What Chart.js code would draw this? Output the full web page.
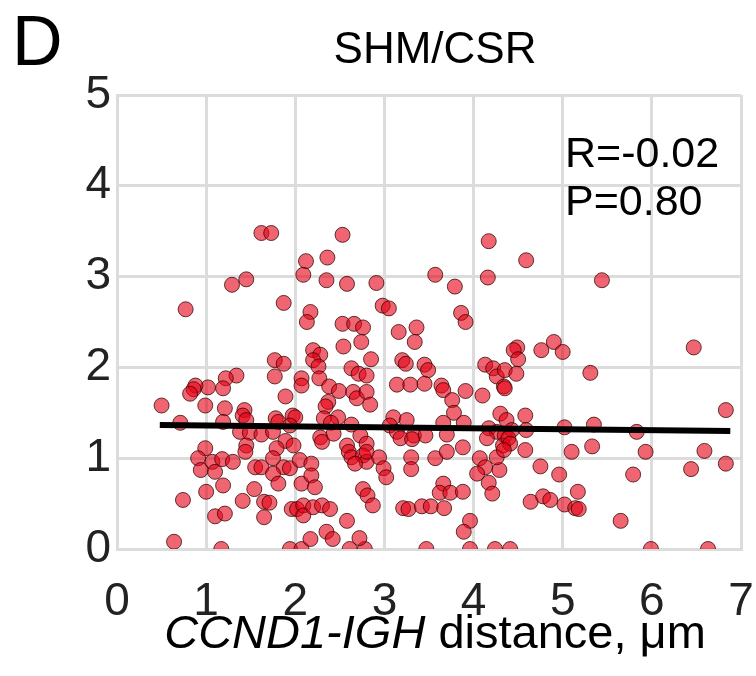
<!DOCTYPE html>
<html>
<head>
<meta charset="utf-8">
<script src="https://cdn.jsdelivr.net/npm/chart.js@4"></script>
<style>
  html, body { margin: 0; padding: 0; background: #fff; }
  #wrap { width: 756px; height: 676px; position: relative; }
</style>
</head>
<body>
<div id="wrap"><canvas id="shmChart"></canvas></div>
<script>
'use strict';

// --- data ---
const PANEL = 'D';
const TITLE = 'SHM/CSR';
const STATS = ['R=-0.02', 'P=0.80'];
const X_TITLE_ITALIC = 'CCND1-IGH';
const X_TITLE_REST = ' distance, \u03BCm';
const X_TICKS = [0, 1, 2, 3, 4, 5, 6, 7];
const Y_TICKS = [0, 1, 2, 3, 4, 5];

// CCND1-IGH distance (µm)
const distance = [
  1.62, 1.73, 2.12, 2.09, 1.45, 1.29, 1.87, 0.77, 2.17, 2.13,
  2.53, 4.17, 2.36, 2.35, 2.58, 2.91, 3.57, 3.79, 4.16, 2.98,
  3.05, 2.53, 2.66, 2.76, 3.16, 3.36, 3.86, 3.91, 4.59, 5.44,
  1.77, 1.87, 1.34, 1.22, 1.19, 1.02, 0.88, 0.86, 0.82, 1.77,
  2.07, 2.07, 1.89, 0.50, 0.99, 1.21, 1.43, 1.41, 1.45, 1.19,
  0.71, 1.78, 1.81, 1.97, 2.00, 1.94, 1.38, 1.49, 1.62, 1.75,
  1.89, 1.98, 1.79, 1.45, 0.99,
  2.74, 2.54, 3.34, 2.20, 2.28, 2.20, 2.26, 2.85, 2.63, 2.71,
  2.80, 3.20, 3.24, 3.45, 3.49, 4.13, 4.22, 4.26, 4.34, 2.27,
  2.38, 2.49, 2.65, 2.69, 2.80, 2.84, 3.14, 3.29, 3.45, 3.64,
  3.66, 3.76, 3.91, 4.10, 3.78, 2.37, 2.34, 2.48, 2.32, 2.40,
  2.63, 3.10, 3.25, 3.06, 3.14, 3.33, 3.46, 3.18, 3.31, 3.66,
  3.89, 3.70, 4.30, 4.17, 4.26, 4.15, 4.35, 4.33, 2.28, 2.30,
  2.43, 2.58, 2.73, 2.80,
  4.49, 4.45, 4.50, 4.76, 4.90, 5.00, 6.47, 4.35, 4.48, 4.35,
  5.31, 4.58, 4.37, 4.43, 4.59, 5.02, 5.35, 5.83, 4.39,
  4.41, 4.58, 5.10, 5.33, 5.93, 6.59, 6.83, 6.83,
  0.91, 1.07, 1.18, 1.30, 0.94, 1.10, 1.44, 1.55, 1.62, 1.75,
  1.87, 1.94, 2.05, 1.75, 1.81, 2.07, 1.19, 1.00, 1.54, 0.74,
  1.41, 1.65, 1.71, 1.96, 2.02, 2.09, 2.09, 1.10, 1.21, 1.65,
  0.64, 1.17, 1.94, 2.07, 2.17,
  2.18, 2.18, 2.22, 2.20, 2.30, 2.39, 2.58, 2.35, 2.42, 2.61,
  2.78, 2.72, 2.76, 2.81, 2.87, 2.60, 2.63, 2.76, 2.80, 2.67,
  2.80, 2.94, 2.99, 3.02, 3.30, 3.30, 3.57, 3.70, 3.88, 3.66,
  3.62, 3.74, 3.88, 3.21, 3.27, 3.42, 3.52, 3.67, 3.96, 3.89,
  3.47, 3.96, 4.24, 4.41, 4.07, 4.13, 4.04, 4.29, 4.17, 4.21,
  4.26, 4.34,
  4.75, 4.96, 5.79, 6.44, 5.17, 4.64, 4.78, 4.86, 5.02, 5.14,
  5.18, 5.65, 5.99, 6.63
];

// SHM/CSR ratio
const shmCsr = [
  3.48, 3.48, 3.17, 3.02, 2.97, 2.91, 2.71, 2.64, 2.61, 2.50,
  3.46, 3.39, 3.21, 2.96, 2.92, 2.93, 3.02, 2.89, 2.99, 2.68,
  2.65, 2.48, 2.48, 2.44, 2.39, 2.44, 2.60, 2.50, 3.18, 2.96,
  2.08, 2.04, 1.91, 1.88, 1.77, 1.78, 1.80, 1.76, 1.71, 1.90,
  1.88, 1.80, 1.68, 1.58, 1.58, 1.55, 1.53, 1.47, 1.42, 1.40,
  1.39, 1.44, 1.40, 1.47, 1.45, 1.36, 1.29, 1.28, 1.26, 1.29,
  1.19, 1.14, 1.11, 1.14, 1.11,
  2.28, 2.23, 2.28, 2.19, 2.14, 2.08, 2.01, 2.09, 1.99, 1.93,
  1.91, 2.08, 2.04, 2.03, 1.97, 2.03, 1.99, 1.90, 1.79, 1.88,
  1.79, 1.74, 1.73, 1.66, 1.73, 1.59, 1.81, 1.81, 1.82, 1.80,
  1.75, 1.64, 1.74, 1.69, 1.50, 1.62, 1.57, 1.45, 1.44, 1.39,
  1.37, 1.45, 1.42, 1.36, 1.29, 1.25, 1.25, 1.22, 1.21, 1.39,
  1.39, 1.26, 1.49, 1.33, 1.29, 1.22, 1.25, 1.14, 1.23, 1.18,
  1.27, 1.14, 1.25, 1.16,
  2.22, 2.19, 2.09, 2.19, 2.28, 2.17, 2.22, 1.97, 1.93, 1.77,
  1.94, 1.47, 1.42, 1.31, 1.31, 1.34, 1.37, 1.29, 1.22,
  1.16, 1.09, 1.07, 1.13, 1.07, 1.08, 1.53, 0.94,
  1.00, 0.96, 0.99, 0.96, 0.87, 0.85, 1.07, 0.90, 0.90, 1.00,
  0.90, 0.89, 0.98, 0.83, 0.72, 0.72, 0.70, 0.63, 0.66, 0.54,
  0.53, 0.52, 0.51, 0.44, 0.44, 0.48, 0.37, 0.36, 0.39, 0.35,
  0.08, 0.00, 0.00, 0.00, 0.11,
  0.94, 0.81, 0.68, 0.46, 0.48, 0.44, 0.31, 0.19, 0.11, 0.00,
  0.00, 0.12, 0.66, 0.59, 0.48, 1.07, 1.01, 1.03, 0.96, 0.94,
  1.07, 1.01, 0.89, 0.79, 1.01, 0.88, 1.00, 1.07, 1.12, 0.72,
  0.62, 0.62, 0.63, 0.45, 0.44, 0.47, 0.47, 0.45, 0.31, 0.19,
  0.00, 0.00, 0.00, 0.00, 1.00, 0.90, 0.83, 0.87, 0.73, 0.61,
  1.01, 1.09,
  0.91, 0.82, 0.82, 0.88, 0.63, 0.52, 0.58, 0.54, 0.49, 0.45,
  0.44, 0.31, 0.00, 0.00
];

// regression line end points
const fitX = [0.48, 6.88];
const fitY = [1.365, 1.30];

const FONT = '"Liberation Sans", Arial, Helvetica, sans-serif';

const points = distance.map((x, i) => ({ x: x, y: shmCsr[i] }));
const fitLine = fitX.map((x, i) => ({ x: x, y: fitY[i] }));

// draws panel letter, title, stats and the mixed-style x title
const textPlugin = {
  id: 'panelTexts',
  afterDraw(chart) {
    const ctx = chart.ctx;
    const a = chart.chartArea;
    ctx.save();
    ctx.fillStyle = '#000';
    ctx.textBaseline = 'alphabetic';

    ctx.textAlign = 'left';
    ctx.font = '70px ' + FONT;
    ctx.fillText(PANEL, 12, 65);

    ctx.textAlign = 'center';
    ctx.font = '44px ' + FONT;
    ctx.fillText(TITLE, 435, 63);

    ctx.textAlign = 'left';
    ctx.font = '43px ' + FONT;
    ctx.fillText(STATS[0], 565, 167);
    ctx.fillText(STATS[1], 565, 215);

    const it = 'italic 47px ' + FONT;
    const rg = '47px ' + FONT;
    ctx.font = it;
    const w1 = ctx.measureText(X_TITLE_ITALIC).width;
    ctx.font = rg;
    const w2 = ctx.measureText(X_TITLE_REST).width;
    const x0 = (a.left + a.right) / 2 + 6 - (w1 + w2) / 2;
    ctx.font = it;
    ctx.fillText(X_TITLE_ITALIC, x0, 648);
    ctx.font = rg;
    ctx.fillText(X_TITLE_REST, x0 + w1, 648);
    ctx.restore();
  }
};

const ctx = document.getElementById('shmChart').getContext('2d');
new Chart(ctx, {
  type: 'scatter',
  data: {
    datasets: [
      {
        type: 'line',
        label: 'fit',
        data: fitLine,
        borderColor: '#000',
        borderWidth: 6,
        pointRadius: 0,
        fill: false,
        order: 0,
      },
      {
        label: 'cells',
        data: points,
        backgroundColor: 'rgba(228,0,20,0.6)',
        borderColor: 'rgba(50,0,0,0.75)',
        borderWidth: 1,
        pointRadius: 7.5,
        order: 1,
      },
    ],
  },
  options: {
    responsive: true,
    maintainAspectRatio: false,
    animation: false,
    layout: { padding: { top: 95, right: 15, left: 0, bottom: 0 } },
    plugins: {
      legend: { display: false },
      tooltip: { enabled: false },
    },
    scales: {
      x: {
        type: 'linear',
        min: 0,
        max: 7,
        afterBuildTicks: s => { s.ticks = X_TICKS.map(v => ({ value: v })); },
        afterFit: s => { s.height = 127; s.paddingLeft = 0; s.paddingRight = 0; },
        grid: { color: '#dcdcdc', lineWidth: 3, drawTicks: false },
        border: { color: '#dcdcdc', width: 3 },
        ticks: { color: '#222', padding: 26, maxRotation: 0, font: { size: 46, family: FONT } },
      },
      y: {
        type: 'linear',
        min: 0,
        max: 5,
        afterBuildTicks: s => { s.ticks = Y_TICKS.map(v => ({ value: v })); },
        afterFit: s => { s.width = 117; },
        grid: { color: '#dcdcdc', lineWidth: 3, drawTicks: false },
        border: { color: '#dcdcdc', width: 3 },
        ticks: { color: '#222', padding: 6, font: { size: 46, family: FONT } },
      },
    },
  },
  plugins: [textPlugin],
});
</script>
</body>
</html>
